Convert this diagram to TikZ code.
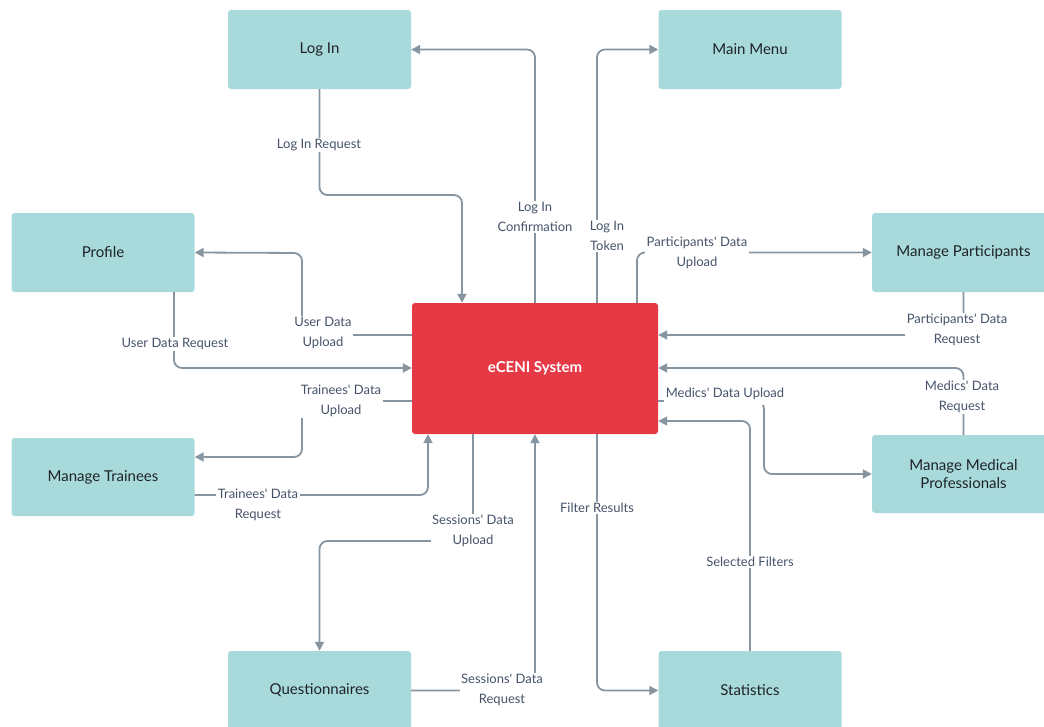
\documentclass[tikz,border=0pt]{standalone}
\usepackage{fontspec}
\setmainfont{Lato}
\usetikzlibrary{arrows.meta}
\definecolor{boxfill}{HTML}{A8DADC}
\definecolor{redfill}{HTML}{E63946}
\definecolor{linec}{HTML}{8795A1}
\definecolor{labc}{HTML}{46536A}
\definecolor{boxtext}{HTML}{1F2326}
\newcommand\ap{\textquotesingle}
\tikzset{
  box/.style={fill=boxfill, rounded corners=3pt, minimum width=183pt, minimum height=79pt, font=\fontsize{15}{19}\selectfont, text=boxtext, align=center, inner sep=0pt},
  core/.style={fill=redfill, rounded corners=3pt, minimum width=246pt, minimum height=131pt, font=\fontsize{15}{19}\selectfont\bfseries, text=white, inner sep=0pt},
  conn/.style={draw=linec, line width=1.8pt, rounded corners=8pt, -{Triangle[length=9pt,width=9pt]}},
  lbl/.style={fill=white, text=labc, font=\fontsize{13}{20}\selectfont, align=center, inner sep=1.5pt}
}
\begin{document}
\begin{tikzpicture}[x=1pt,y=-1pt]
\useasboundingbox (0,0) rectangle (1044,726);
% boxes
\node[box] (login) at (319.5,49.5) {Log In};
\node[box] (mainmenu) at (750,49.5) {Main Menu};
\node[box] (profile) at (103,252.5) {Profile};
\node[box] (mparts) at (963.5,252.5) {Manage Participants};
\node[box, minimum height=78pt] (mmed) at (963.5,474) {Manage Medical\\[-1pt]Professionals};
\node[box, minimum height=78pt] (mtrain) at (103,477) {Manage Trainees};
\node[box] (quest) at (319.5,690.5) {Questionnaires};
\node[box] (stats) at (750,690.5) {Statistics};
\node[core] (eceni) at (535,368.5) {eCENI System};
% connectors
\draw[conn] (login.south) |- (462,195) -- (462,0 |- eceni.north);
\draw[conn] (535,0 |- eceni.north) |- (login.east);
\draw[conn] (597,0 |- eceni.north) |- (mainmenu.west);
\draw[conn] (637,0 |- eceni.north) |- (mparts.west);
\draw[conn] (mparts.south) |- (eceni.east |- 0,335);
\draw[conn] (mmed.north) |- (eceni.east |- 0,368);
\draw[conn] (eceni.east |- 0,401) -| (764,474) -- (mmed.west);
\draw[conn] (stats.north) |- (eceni.east |- 0,421);
\draw[conn] (597,0 |- eceni.south) |- (stats.west);
\draw[conn] (quest.east) -| (535,0 |- eceni.south);
\draw[conn] (473,0 |- eceni.south) |- (quest.north |- 0,541) -- (quest.north);
\draw[conn] (mtrain.east |- 0,495) -| (428,0 |- eceni.south);
\draw[conn] (eceni.west |- 0,401) -| (302,457) -- (mtrain.east |- 0,457);
\draw[conn] (eceni.west |- 0,335) -| (302,253) -- (profile.east);
\draw[conn] (174,0 |- profile.south) |- (eceni.west |- 0,368);
% labels
\node[lbl] (l1) at (319,145) {Log In Request};
\node[lbl] (l2) at (535,217) {Log In\\Confirmation};
\node[lbl] (l3) at (607,236) {Log In\\Token};
\node[lbl] (l4) at (697,253) {Participants\ap{} Data\\Upload};
\node[lbl] (l5) at (957,330) {Participants\ap{} Data\\Request};
\node[lbl] (l6) at (962,397) {Medics\ap{} Data\\Request};
\node[lbl, inner ysep=5pt] (l7) at (725,394) {Medics\ap{} Data Upload};
\node[lbl] (l8) at (750,562) {Selected Filters};
\node[lbl] (l9) at (597,508) {Filter Results};
\node[lbl] (l10) at (502,690) {Sessions\ap{} Data\\Request};
\node[lbl] (l11) at (473,531) {Sessions\ap{} Data\\Upload};
\node[lbl] (l12) at (258,505) {Trainees\ap{} Data\\Request};
\node[lbl] (l13) at (341,401) {Trainees\ap{} Data\\Upload};
\node[lbl] (l14) at (323,333) {User Data\\Upload};
\node[lbl] (l15) at (175,344) {User Data Request};
\end{tikzpicture}
\end{document}
